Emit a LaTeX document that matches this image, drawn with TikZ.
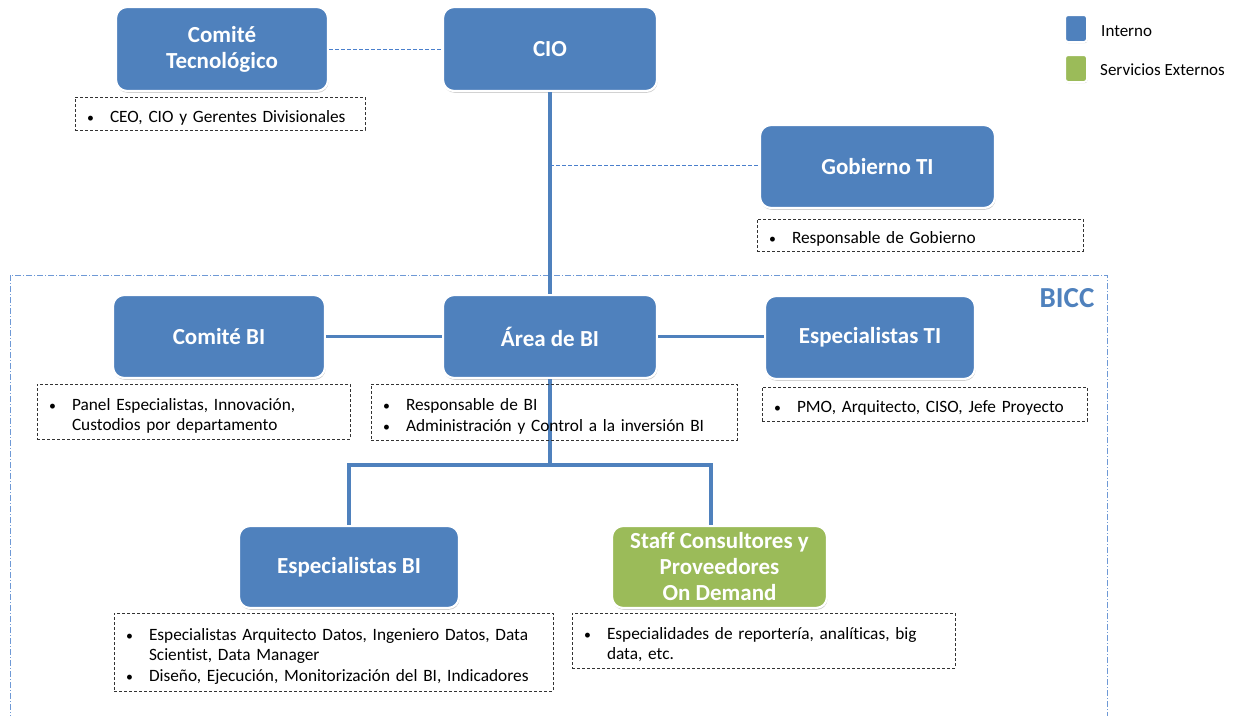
\documentclass[tikz,border=0pt]{standalone}
\usepackage{fontspec}
\setmainfont{Carlito}[Ligatures=NoCommon]
\usetikzlibrary{shadows,calc}
\definecolor{boxblue}{HTML}{4F81BD}
\definecolor{boxgreen}{HTML}{9BBB59}
\definecolor{thinblue}{HTML}{4A7FCC}
% bullet item with hanging indent
\newcommand\bitem[1]{\par\noindent\hangindent=35pt\hangafter=1\makebox[35pt][l]{\hspace{12pt}\scalebox{0.8}{\textbullet}}#1\par}
\tikzset{
  unit/.style={rounded corners=11pt, draw=white, line width=2.2pt, text=white,
    font=\fontsize{23}{26}\selectfont\bfseries, align=center,
    drop shadow={opacity=0.4, shadow xshift=0.6pt, shadow yshift=-1.8pt}},
  internal/.style={unit, fill=boxblue},
  external/.style={unit, fill=boxgreen},
  notebox/.style={draw=black!80, dashed, dash pattern=on 3pt off 2pt, line width=0.8pt,
    inner xsep=0pt, inner ysep=2pt, align=left,
    font=\fontsize{17.3}{20.5}\selectfont},
  conn/.style={draw=boxblue, line width=3.2pt},
  link/.style={draw=thinblue, line width=1pt, dash pattern=on 4pt off 2pt},
  bicc/.style={draw=thinblue!80, line width=0.9pt, dash pattern=on 6pt off 2pt on 1pt off 2pt},
  legendbox/.style={rounded corners=3pt, draw=white, line width=2pt,
    drop shadow={opacity=0.4, shadow xshift=0.5pt, shadow yshift=-1.2pt},
    minimum width=22pt, minimum height=27pt, inner sep=0pt},
  legendtext/.style={anchor=west, font=\fontsize{17}{19}\selectfont, inner sep=0pt},
}
\begin{document}
\begin{tikzpicture}[x=1pt, y=-1pt]
\useasboundingbox (0,0) rectangle (1236,715);
\fill[white] (0,0) rectangle (1236,715);

% BICC frame
\draw[bicc] (10,275) rectangle (1107,740);
\node[text=boxblue, font=\fontsize{29}{32}\selectfont\bfseries, inner sep=0pt] (bicclabel) at (1067,298) {BICC};

% units
\node[internal, minimum width=212pt, minimum height=84pt] (ctec) at (222,49) {Comité\\Tecnológico};
\node[internal, minimum width=214pt, minimum height=84pt] (cio) at (550,49) {CIO};
\node[internal, minimum width=235pt, minimum height=83pt] (gob) at (877.5,166.5) {Gobierno TI};
\node[internal, minimum width=212pt, minimum height=83pt] (cbi) at (219,336.5) {Comité BI};
\node[internal, minimum width=214pt, minimum height=83pt] (area) at (550,336.5) {Área de BI};
\node[internal, minimum width=210pt, minimum height=83pt] (esti) at (870,337.5) {Especialistas TI};
\node[internal, minimum width=220pt, minimum height=82pt] (esbi) at (349,567) {Especialistas BI};
\node[external, minimum width=215pt, minimum height=82pt] (staff) at (719.5,567) {Staff Consultores y\\Proveedores\\On Demand};

% connectors
\draw[conn] (cio.south) -- (area.north);
\draw[conn] (cbi.east) -- (area.west);
\draw[conn] (area.east) -- (area.east -| esti.west);
\coordinate (split) at (550,465);
\coordinate (gobtap) at (550,165);
\draw[conn] (area.south) -- (split);
\draw[conn] (esbi.north) |- (split) -| ([xshift=-8.5pt]staff.north);
\draw[link] (ctec.east) -- (cio.west);
\draw[link] (gobtap) -- (gobtap -| gob.west);

% notes
\node[notebox, text width=290pt, minimum width=290pt, minimum height=33pt] (nctec) at (220,113.5)
  {\bitem{CEO, CIO y Gerentes Divisionales}};
\node[notebox, text width=326pt, minimum width=326pt, minimum height=32pt] (ngob) at (920,235)
  {\bitem{Responsable de Gobierno}};
\node[notebox, text width=313pt, minimum width=313pt, minimum height=55pt] (ncbi) at (193.5,411.5)
  {\bitem{Panel Especialistas, Innovación,\newline Custodios por departamento}};
\node[notebox, text width=366pt, minimum width=366pt, minimum height=56pt] (narea) at (554,412)
  {\bitem{Responsable de BI}\bitem{Administración y Control a la inversión BI}};
\node[notebox, text width=325pt, minimum width=325pt, minimum height=34pt] (nesti) at (924.5,404)
  {\bitem{PMO, Arquitecto, CISO, Jefe Proyecto}};
\node[notebox, text width=439pt, minimum width=439pt, minimum height=78pt] (nesbi) at (333.5,652)
  {\bitem{Especialistas Arquitecto Datos, Ingeniero Datos, Data\newline Scientist, Data Manager}\bitem{Diseño, Ejecución, Monitorización del BI, Indicadores}};
\node[notebox, text width=383pt, minimum width=383pt, minimum height=55pt] (nstaff) at (763.5,640.5)
  {\bitem{Especialidades de reportería, analíticas, big\newline data, etc.}};

% legend
\node[legendbox, fill=boxblue] (lgint) at (1076,28.5) {};
\node[legendbox, fill=boxgreen] (lgext) at (1076,68.5) {};
\node[legendtext] (lgintt) at (1101,31) {Interno};
\node[legendtext] (lgextt) at (1100,70) {Servicios Externos};
\end{tikzpicture}
\end{document}
